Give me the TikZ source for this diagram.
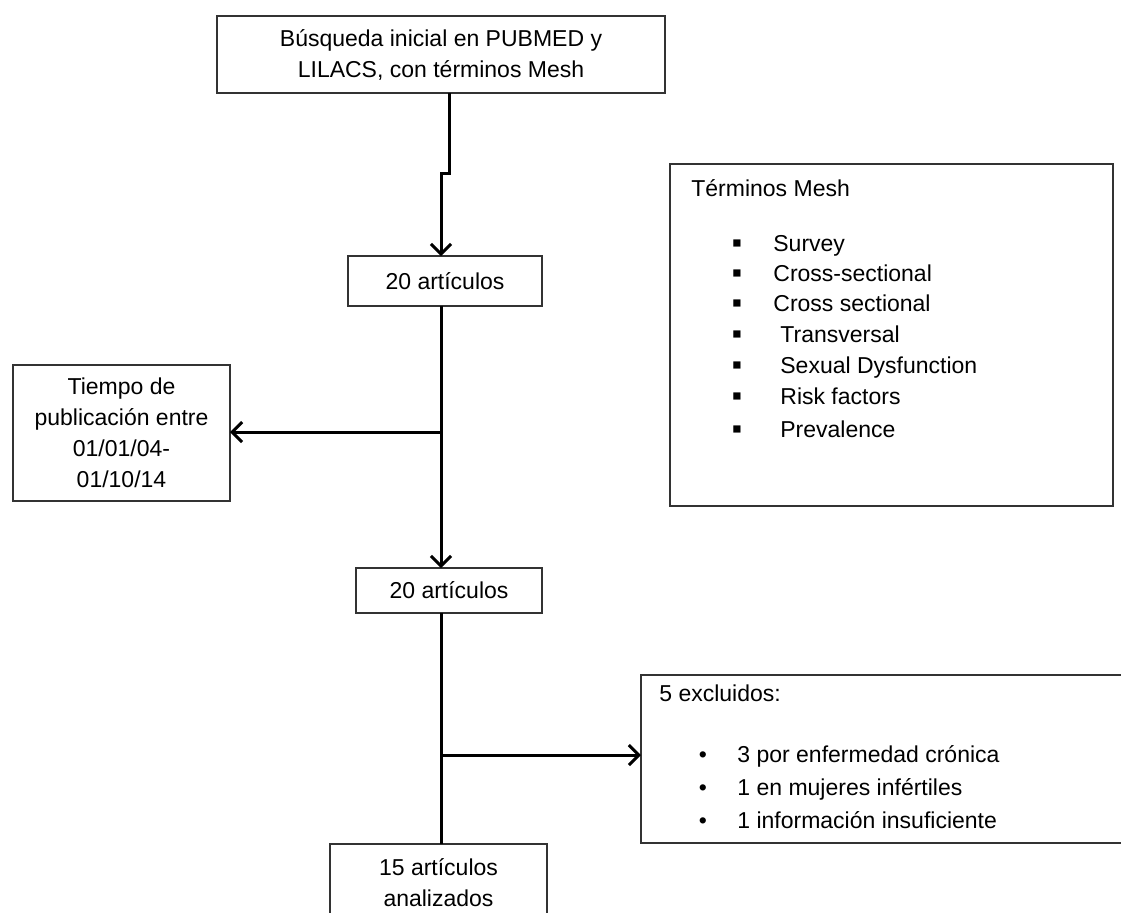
\documentclass[tikz,border=0pt]{standalone}
\usepackage{fontspec}
\setmainfont{Liberation Sans}
\usetikzlibrary{arrows.meta}
\begin{document}
\begin{tikzpicture}[x=0.5pt,y=-0.5pt,
  box/.style={draw=black!80, line width=1pt, inner sep=0pt, outer sep=0pt, fill=white,
    align=center, font=\fontsize{11.5pt}{15.5pt}\selectfont},
  lbl/.style={inner sep=0pt, font=\fontsize{11.5pt}{15.5pt}\selectfont},
  sq/.style={inner sep=0pt, font=\fontsize{14.5pt}{15.5pt}\selectfont},
  conn/.style={line width=1.5pt, black},
  arr/.style={-{Straight Barb[length=5pt,width=10pt]}}]
\useasboundingbox (0,0) rectangle (1121,912);
% boxes
\node[box, minimum width=224pt, minimum height=38.5pt] (top) at (441,54.5)
  {Búsqueda inicial en PUBMED y\\LILACS, con términos Mesh};
\node[box, minimum width=97pt, minimum height=25pt] (boxa) at (445,281) {20 artículos};
\node[box, minimum width=93pt, minimum height=22.5pt] (boxb) at (449,590.5) {20 artículos};
\node[box, minimum width=108.5pt, minimum height=68pt] (tiempo) at (121.5,433)
  {Tiempo de\\publicación entre\\01/01/04-\\01/10/14};
\node[box, minimum width=108.5pt, minimum height=39pt] (fin) at (438.5,883)
  {15 artículos\\analizados};
\node[box, minimum width=221.5pt, minimum height=171pt] (mesh) at (891.5,335) {};
\node[box, minimum width=249.5pt, minimum height=84pt] (excl) at (890.5,759) {};
% Mesh text
\node[lbl, anchor=base west] (mtitle) at (691,196) {Términos Mesh};
\foreach \t/\y/\xx [count=\i] in {Survey/251/773, Cross-sectional/281/773, Cross sectional/311/773,
  Transversal/342/780, Sexual Dysfunction/373/780, Risk factors/404/780, Prevalence/437/780}{
  \node[sq, anchor=base] (mb\i) at (737,\y+1) {▪};
  \node[lbl, anchor=base west] (mi\i) at (\xx,\y) {\t};
}
% excluded text
\node[lbl, anchor=base west] (etitle) at (659,701) {5 excluidos:};
\foreach \t/\y [count=\i] in {3 por enfermedad crónica/762, 1 en mujeres infértiles/795,
  1 información insuficiente/828}{
  \node[lbl, anchor=base] (eb\i) at (703,\y) {•};
  \node[lbl, anchor=base west] (ei\i) at (737,\y) {\t};
}
% connectors
\coordinate (jA) at (449,173);
\coordinate (jB) at (441,173);
\coordinate (b1) at (441,432);
\coordinate (b2) at (441,755);
\draw[conn, arr] (top.south -| jA) -- (jA) -- (jB) -- (boxa.north -| jB);
\draw[conn] (boxa.south -| b1) -- (b1);
\draw[conn, arr] (b1) -- (boxb.north -| b1);
\draw[conn, arr] (b1) -- (tiempo.east |- b1);
\draw[conn] (boxb.south -| b2) -- (fin.north -| b2);
\draw[conn, arr] (b2) -- (excl.west |- b2);
\end{tikzpicture}
\end{document}
